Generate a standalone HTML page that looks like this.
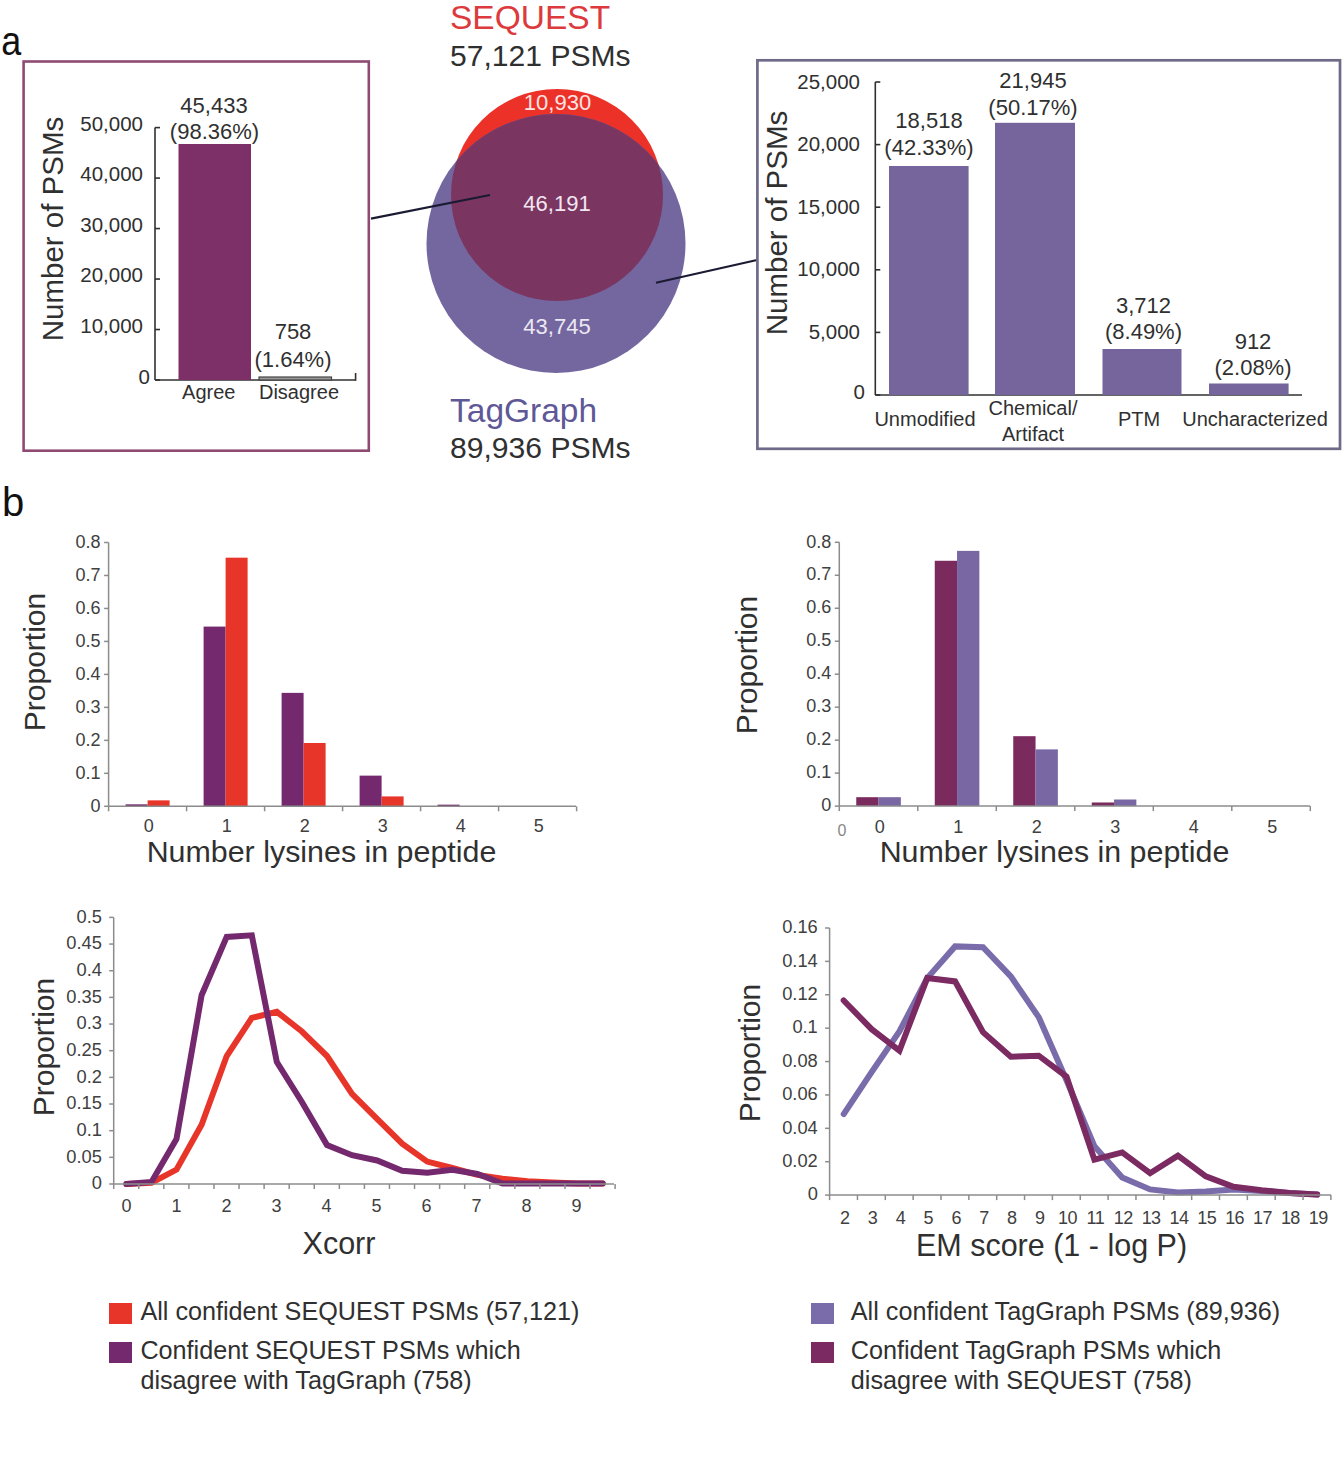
<!DOCTYPE html>
<html><head><meta charset="utf-8"><style>
html,body{margin:0;padding:0;background:#fff;}
svg{display:block;font-family:"Liberation Sans", sans-serif;}
</style></head><body>
<svg width="1344" height="1463" viewBox="0 0 1344 1463">
<rect width="1344" height="1463" fill="#fff"/>
<text x="0" y="0" font-size="40" fill="#111" text-anchor="start" transform="translate(1.2,54.5) scale(0.9,1)">a</text>
<text x="2" y="515.5" font-size="40" fill="#111" text-anchor="start" >b</text>
<rect x="23.6" y="61.5" width="345.2" height="389.2" fill="none" stroke="#8e4a72" stroke-width="2.6"/>
<line x1="155" y1="127.6" x2="155" y2="380" stroke="#303030" stroke-width="1.6" />
<line x1="155" y1="380" x2="355.6" y2="380" stroke="#303030" stroke-width="1.6" />
<line x1="355.6" y1="380.8" x2="355.6" y2="373" stroke="#303030" stroke-width="1.6" />
<line x1="155" y1="380.0" x2="160" y2="380.0" stroke="#303030" stroke-width="1.6" />
<text x="150" y="383.5" font-size="20.5" fill="#303030" text-anchor="end" >0</text>
<line x1="155" y1="329.52" x2="160" y2="329.52" stroke="#303030" stroke-width="1.6" />
<text x="143" y="332.52" font-size="20.5" fill="#303030" text-anchor="end" >10,000</text>
<line x1="155" y1="279.03999999999996" x2="160" y2="279.03999999999996" stroke="#303030" stroke-width="1.6" />
<text x="143" y="282.03999999999996" font-size="20.5" fill="#303030" text-anchor="end" >20,000</text>
<line x1="155" y1="228.56" x2="160" y2="228.56" stroke="#303030" stroke-width="1.6" />
<text x="143" y="231.56" font-size="20.5" fill="#303030" text-anchor="end" >30,000</text>
<line x1="155" y1="178.07999999999998" x2="160" y2="178.07999999999998" stroke="#303030" stroke-width="1.6" />
<text x="143" y="181.07999999999998" font-size="20.5" fill="#303030" text-anchor="end" >40,000</text>
<line x1="155" y1="127.59999999999997" x2="160" y2="127.59999999999997" stroke="#303030" stroke-width="1.6" />
<text x="143" y="130.59999999999997" font-size="20.5" fill="#303030" text-anchor="end" >50,000</text>
<rect x="178.5" y="144" width="72.5" height="236" fill="#7d3067" />
<rect x="259" y="377" width="72.5" height="3" fill="#9a9a9a" stroke="#444" stroke-width="1.2"/>
<text x="214" y="113" font-size="22" fill="#303030" text-anchor="middle" >45,433</text>
<text x="214.5" y="138.7" font-size="22" fill="#303030" text-anchor="middle" >(98.36%)</text>
<text x="293" y="339" font-size="22" fill="#303030" text-anchor="middle" >758</text>
<text x="293" y="367" font-size="22" fill="#303030" text-anchor="middle" >(1.64%)</text>
<text x="208.8" y="399" font-size="20" fill="#303030" text-anchor="middle" >Agree</text>
<text x="299" y="399" font-size="20" fill="#303030" text-anchor="middle" >Disagree</text>
<text x="0" y="0" font-size="29.5" fill="#303030" text-anchor="middle" transform="translate(63,229) rotate(-90)">Number of PSMs</text>
<text x="450" y="29" font-size="33.5" fill="#dc3a3c" text-anchor="start" >SEQUEST</text>
<text x="450" y="65.5" font-size="30.1" fill="#303030" text-anchor="start" >57,121 PSMs</text>
<defs><clipPath id="pc"><circle cx="556" cy="243.5" r="129.5"/></clipPath></defs>
<circle cx="557" cy="195" r="106" fill="#ec3128"/>
<circle cx="556" cy="243.5" r="129.5" fill="#74679f"/>
<circle cx="557" cy="195" r="106" fill="#7a3661" clip-path="url(#pc)"/>
<text x="557.5" y="109.5" font-size="22" fill="#fbe4e4" text-anchor="middle" >10,930</text>
<text x="557" y="210.5" font-size="22" fill="#f2e6f2" text-anchor="middle" >46,191</text>
<text x="557" y="334" font-size="22" fill="#ece8f4" text-anchor="middle" >43,745</text>
<line x1="371" y1="218.6" x2="490" y2="195" stroke="#1a1a33" stroke-width="2.2" />
<line x1="656" y1="282.8" x2="757" y2="260" stroke="#1a1a33" stroke-width="2.2" />
<text x="450" y="422.3" font-size="33.5" fill="#5f5897" text-anchor="start" >TagGraph</text>
<text x="450" y="458" font-size="30.1" fill="#303030" text-anchor="start" >89,936 PSMs</text>
<rect x="757.4" y="60.3" width="582.6" height="388.5" fill="none" stroke="#6e6a88" stroke-width="2.7"/>
<line x1="875.3" y1="82" x2="875.3" y2="395" stroke="#303030" stroke-width="1.6" />
<line x1="875.3" y1="395" x2="1302" y2="395" stroke="#303030" stroke-width="1.6" />
<line x1="875.3" y1="395.0" x2="880.3" y2="395.0" stroke="#303030" stroke-width="1.6" />
<text x="865" y="399" font-size="20.5" fill="#303030" text-anchor="end" >0</text>
<line x1="875.3" y1="332.4" x2="880.3" y2="332.4" stroke="#303030" stroke-width="1.6" />
<text x="860" y="338.9" font-size="20.5" fill="#303030" text-anchor="end" >5,000</text>
<line x1="875.3" y1="269.8" x2="880.3" y2="269.8" stroke="#303030" stroke-width="1.6" />
<text x="860" y="276.3" font-size="20.5" fill="#303030" text-anchor="end" >10,000</text>
<line x1="875.3" y1="207.2" x2="880.3" y2="207.2" stroke="#303030" stroke-width="1.6" />
<text x="860" y="213.7" font-size="20.5" fill="#303030" text-anchor="end" >15,000</text>
<line x1="875.3" y1="144.6" x2="880.3" y2="144.6" stroke="#303030" stroke-width="1.6" />
<text x="860" y="151.1" font-size="20.5" fill="#303030" text-anchor="end" >20,000</text>
<line x1="875.3" y1="82.0" x2="880.3" y2="82.0" stroke="#303030" stroke-width="1.6" />
<text x="860" y="88.5" font-size="20.5" fill="#303030" text-anchor="end" >25,000</text>
<rect x="889" y="166" width="79.60000000000002" height="229" fill="#76659d" />
<rect x="995" y="122.8" width="80" height="272.2" fill="#76659d" />
<rect x="1102.5" y="349" width="79.0" height="46" fill="#76659d" />
<rect x="1209" y="383.5" width="79.59999999999991" height="11.5" fill="#76659d" />
<text x="929" y="128" font-size="22" fill="#303030" text-anchor="middle" >18,518</text>
<text x="929" y="155" font-size="22" fill="#303030" text-anchor="middle" >(42.33%)</text>
<text x="1033" y="88" font-size="22" fill="#303030" text-anchor="middle" >21,945</text>
<text x="1033" y="114.7" font-size="22" fill="#303030" text-anchor="middle" >(50.17%)</text>
<text x="1143.5" y="313.4" font-size="22" fill="#303030" text-anchor="middle" >3,712</text>
<text x="1143.5" y="339" font-size="22" fill="#303030" text-anchor="middle" >(8.49%)</text>
<text x="1253" y="349" font-size="22" fill="#303030" text-anchor="middle" >912</text>
<text x="1253" y="375" font-size="22" fill="#303030" text-anchor="middle" >(2.08%)</text>
<text x="925" y="426" font-size="20" fill="#303030" text-anchor="middle" >Unmodified</text>
<text x="1033" y="415" font-size="20" fill="#303030" text-anchor="middle" >Chemical/</text>
<text x="1033" y="440.6" font-size="20" fill="#303030" text-anchor="middle" >Artifact</text>
<text x="1139" y="426" font-size="20" fill="#303030" text-anchor="middle" >PTM</text>
<text x="1255" y="426" font-size="20" fill="#303030" text-anchor="middle" >Uncharacterized</text>
<text x="0" y="0" font-size="29.5" fill="#303030" text-anchor="middle" transform="translate(787,223) rotate(-90)">Number of PSMs</text>
<rect x="125.6" y="804.3214999999999" width="22" height="1.9785000000000537" fill="#74296e" />
<rect x="147.6" y="800.3644999999999" width="22" height="5.935500000000047" fill="#e8352a" />
<rect x="203.6" y="626.58625" width="22" height="179.71375" fill="#74296e" />
<rect x="225.6" y="557.6685" width="22" height="248.63149999999996" fill="#e8352a" />
<rect x="281.6" y="692.866" width="22" height="113.43399999999997" fill="#74296e" />
<rect x="303.6" y="742.9879999999999" width="22" height="63.31200000000001" fill="#e8352a" />
<rect x="359.6" y="775.63325" width="22" height="30.66674999999998" fill="#74296e" />
<rect x="381.6" y="796.4074999999999" width="22" height="9.892500000000041" fill="#e8352a" />
<rect x="437.6" y="804.65125" width="22" height="1.64874999999995" fill="#74296e" />
<rect x="459.6" y="805.97025" width="22" height="0.32974999999999" fill="#e8352a" />
<rect x="515.6" y="806.3" width="22" height="0.0" fill="#74296e" />
<rect x="537.6" y="806.3" width="22" height="0.0" fill="#e8352a" />
<line x1="108.6" y1="542.5" x2="108.6" y2="806.3" stroke="#8c8c8c" stroke-width="1.5" />
<line x1="108.6" y1="806.3" x2="576" y2="806.3" stroke="#8c8c8c" stroke-width="1.5" />
<line x1="104.1" y1="806.3" x2="108.6" y2="806.3" stroke="#8c8c8c" stroke-width="1.5" />
<text x="100.6" y="811.5" font-size="18" fill="#404040" text-anchor="end" >0</text>
<line x1="104.1" y1="773.3249999999999" x2="108.6" y2="773.3249999999999" stroke="#8c8c8c" stroke-width="1.5" />
<text x="100.6" y="778.525" font-size="18" fill="#404040" text-anchor="end" >0.1</text>
<line x1="104.1" y1="740.3499999999999" x2="108.6" y2="740.3499999999999" stroke="#8c8c8c" stroke-width="1.5" />
<text x="100.6" y="745.55" font-size="18" fill="#404040" text-anchor="end" >0.2</text>
<line x1="104.1" y1="707.375" x2="108.6" y2="707.375" stroke="#8c8c8c" stroke-width="1.5" />
<text x="100.6" y="712.575" font-size="18" fill="#404040" text-anchor="end" >0.3</text>
<line x1="104.1" y1="674.4" x2="108.6" y2="674.4" stroke="#8c8c8c" stroke-width="1.5" />
<text x="100.6" y="679.6" font-size="18" fill="#404040" text-anchor="end" >0.4</text>
<line x1="104.1" y1="641.425" x2="108.6" y2="641.425" stroke="#8c8c8c" stroke-width="1.5" />
<text x="100.6" y="646.625" font-size="18" fill="#404040" text-anchor="end" >0.5</text>
<line x1="104.1" y1="608.45" x2="108.6" y2="608.45" stroke="#8c8c8c" stroke-width="1.5" />
<text x="100.6" y="613.6500000000001" font-size="18" fill="#404040" text-anchor="end" >0.6</text>
<line x1="104.1" y1="575.475" x2="108.6" y2="575.475" stroke="#8c8c8c" stroke-width="1.5" />
<text x="100.6" y="580.6750000000001" font-size="18" fill="#404040" text-anchor="end" >0.7</text>
<line x1="104.1" y1="542.5" x2="108.6" y2="542.5" stroke="#8c8c8c" stroke-width="1.5" />
<text x="100.6" y="547.7" font-size="18" fill="#404040" text-anchor="end" >0.8</text>
<line x1="108.6" y1="806.3" x2="108.6" y2="811.3" stroke="#8c8c8c" stroke-width="1.5" />
<line x1="186.6" y1="806.3" x2="186.6" y2="811.3" stroke="#8c8c8c" stroke-width="1.5" />
<line x1="264.6" y1="806.3" x2="264.6" y2="811.3" stroke="#8c8c8c" stroke-width="1.5" />
<line x1="342.6" y1="806.3" x2="342.6" y2="811.3" stroke="#8c8c8c" stroke-width="1.5" />
<line x1="420.6" y1="806.3" x2="420.6" y2="811.3" stroke="#8c8c8c" stroke-width="1.5" />
<line x1="498.6" y1="806.3" x2="498.6" y2="811.3" stroke="#8c8c8c" stroke-width="1.5" />
<line x1="576.6" y1="806.3" x2="576.6" y2="811.3" stroke="#8c8c8c" stroke-width="1.5" />
<text x="148.79999999999998" y="831.5" font-size="18" fill="#404040" text-anchor="middle" >0</text>
<text x="226.79999999999998" y="831.5" font-size="18" fill="#404040" text-anchor="middle" >1</text>
<text x="304.8" y="831.5" font-size="18" fill="#404040" text-anchor="middle" >2</text>
<text x="382.8" y="831.5" font-size="18" fill="#404040" text-anchor="middle" >3</text>
<text x="460.8" y="831.5" font-size="18" fill="#404040" text-anchor="middle" >4</text>
<text x="538.8000000000001" y="831.5" font-size="18" fill="#404040" text-anchor="middle" >5</text>
<text x="321.5" y="861.5" font-size="30.4" fill="#303030" text-anchor="middle" >Number lysines in peptide</text>
<text x="0" y="0" font-size="30" fill="#303030" text-anchor="middle" transform="translate(45,662) rotate(-90)">Proportion</text>
<rect x="856.25" y="797.1967500000001" width="22.3" height="8.903249999999957" fill="#7b2a5e" />
<rect x="878.55" y="797.1967500000001" width="22.3" height="8.903249999999957" fill="#7867a3" />
<rect x="934.75" y="560.766" width="22.3" height="245.33400000000006" fill="#7b2a5e" />
<rect x="957.05" y="550.8734999999999" width="22.3" height="255.2265000000001" fill="#7867a3" />
<rect x="1013.25" y="736.193" width="22.3" height="69.90700000000004" fill="#7b2a5e" />
<rect x="1035.55" y="749.383" width="22.3" height="56.716999999999985" fill="#7867a3" />
<rect x="1091.75" y="802.47275" width="22.3" height="3.6272500000000036" fill="#7b2a5e" />
<rect x="1114.05" y="799.505" width="22.3" height="6.595000000000027" fill="#7867a3" />
<rect x="1170.25" y="806.1" width="22.3" height="0.0" fill="#7b2a5e" />
<rect x="1192.55" y="806.1" width="22.3" height="0.0" fill="#7867a3" />
<rect x="1248.75" y="806.1" width="22.3" height="0.0" fill="#7b2a5e" />
<rect x="1271.05" y="806.1" width="22.3" height="0.0" fill="#7867a3" />
<line x1="839.3" y1="542.3" x2="839.3" y2="806.1" stroke="#8c8c8c" stroke-width="1.5" />
<line x1="839.3" y1="806.1" x2="1310" y2="806.1" stroke="#8c8c8c" stroke-width="1.5" />
<line x1="834.8" y1="806.1" x2="839.3" y2="806.1" stroke="#8c8c8c" stroke-width="1.5" />
<text x="831.3" y="811.3000000000001" font-size="18" fill="#404040" text-anchor="end" >0</text>
<line x1="834.8" y1="773.125" x2="839.3" y2="773.125" stroke="#8c8c8c" stroke-width="1.5" />
<text x="831.3" y="778.325" font-size="18" fill="#404040" text-anchor="end" >0.1</text>
<line x1="834.8" y1="740.15" x2="839.3" y2="740.15" stroke="#8c8c8c" stroke-width="1.5" />
<text x="831.3" y="745.35" font-size="18" fill="#404040" text-anchor="end" >0.2</text>
<line x1="834.8" y1="707.175" x2="839.3" y2="707.175" stroke="#8c8c8c" stroke-width="1.5" />
<text x="831.3" y="712.375" font-size="18" fill="#404040" text-anchor="end" >0.3</text>
<line x1="834.8" y1="674.2" x2="839.3" y2="674.2" stroke="#8c8c8c" stroke-width="1.5" />
<text x="831.3" y="679.4000000000001" font-size="18" fill="#404040" text-anchor="end" >0.4</text>
<line x1="834.8" y1="641.2249999999999" x2="839.3" y2="641.2249999999999" stroke="#8c8c8c" stroke-width="1.5" />
<text x="831.3" y="646.425" font-size="18" fill="#404040" text-anchor="end" >0.5</text>
<line x1="834.8" y1="608.25" x2="839.3" y2="608.25" stroke="#8c8c8c" stroke-width="1.5" />
<text x="831.3" y="613.45" font-size="18" fill="#404040" text-anchor="end" >0.6</text>
<line x1="834.8" y1="575.275" x2="839.3" y2="575.275" stroke="#8c8c8c" stroke-width="1.5" />
<text x="831.3" y="580.475" font-size="18" fill="#404040" text-anchor="end" >0.7</text>
<line x1="834.8" y1="542.3" x2="839.3" y2="542.3" stroke="#8c8c8c" stroke-width="1.5" />
<text x="831.3" y="547.5" font-size="18" fill="#404040" text-anchor="end" >0.8</text>
<line x1="839.3" y1="806.1" x2="839.3" y2="811.1" stroke="#8c8c8c" stroke-width="1.5" />
<line x1="917.8" y1="806.1" x2="917.8" y2="811.1" stroke="#8c8c8c" stroke-width="1.5" />
<line x1="996.3" y1="806.1" x2="996.3" y2="811.1" stroke="#8c8c8c" stroke-width="1.5" />
<line x1="1074.8" y1="806.1" x2="1074.8" y2="811.1" stroke="#8c8c8c" stroke-width="1.5" />
<line x1="1153.3" y1="806.1" x2="1153.3" y2="811.1" stroke="#8c8c8c" stroke-width="1.5" />
<line x1="1231.8" y1="806.1" x2="1231.8" y2="811.1" stroke="#8c8c8c" stroke-width="1.5" />
<line x1="1310.3" y1="806.1" x2="1310.3" y2="811.1" stroke="#8c8c8c" stroke-width="1.5" />
<text x="879.75" y="832.5" font-size="18" fill="#404040" text-anchor="middle" >0</text>
<text x="958.25" y="832.5" font-size="18" fill="#404040" text-anchor="middle" >1</text>
<text x="1036.75" y="832.5" font-size="18" fill="#404040" text-anchor="middle" >2</text>
<text x="1115.25" y="832.5" font-size="18" fill="#404040" text-anchor="middle" >3</text>
<text x="1193.75" y="832.5" font-size="18" fill="#404040" text-anchor="middle" >4</text>
<text x="1272.25" y="832.5" font-size="18" fill="#404040" text-anchor="middle" >5</text>
<text x="1054.5" y="861.5" font-size="30.4" fill="#303030" text-anchor="middle" >Number lysines in peptide</text>
<text x="0" y="0" font-size="30" fill="#303030" text-anchor="middle" transform="translate(757,665) rotate(-90)">Proportion</text>
<text x="842" y="836" font-size="16" fill="#888" text-anchor="middle" >0</text>
<polyline points="126.4,1184.0 151.5,1182.9 176.5,1169.6 201.6,1124.8 226.7,1056.0 251.8,1017.9 276.8,1011.8 301.9,1031.5 327.0,1056.0 352.0,1093.9 377.1,1118.9 402.2,1143.7 427.2,1161.6 452.3,1168.0 477.4,1174.9 502.5,1178.7 527.5,1181.3 552.6,1182.4 577.7,1183.5 602.7,1183.5" fill="none" stroke="#e8352a" stroke-width="6" stroke-linejoin="miter" stroke-miterlimit="3" stroke-linecap="round"/>
<polyline points="126.4,1184.0 151.5,1181.9 176.5,1138.9 201.6,995.2 226.7,936.9 251.8,935.3 276.8,1062.0 301.9,1102.0 327.0,1145.0 352.0,1155.2 377.1,1160.5 402.2,1170.8 427.2,1172.8 452.3,1169.8 477.4,1174.0 502.5,1183.5 527.5,1183.5 552.6,1183.5 577.7,1183.5 602.7,1183.5" fill="none" stroke="#74296e" stroke-width="6" stroke-linejoin="miter" stroke-miterlimit="3" stroke-linecap="round"/>
<line x1="113.7" y1="917.4" x2="113.7" y2="1184" stroke="#8c8c8c" stroke-width="1.5" />
<line x1="113.7" y1="1184" x2="614" y2="1184" stroke="#8c8c8c" stroke-width="1.5" />
<line x1="109.2" y1="1184.0" x2="113.7" y2="1184.0" stroke="#8c8c8c" stroke-width="1.5" />
<text x="101.9" y="1189.2" font-size="18.3" fill="#404040" text-anchor="end" >0</text>
<line x1="109.2" y1="1157.34" x2="113.7" y2="1157.34" stroke="#8c8c8c" stroke-width="1.5" />
<text x="101.9" y="1162.54" font-size="18.3" fill="#404040" text-anchor="end" >0.05</text>
<line x1="109.2" y1="1130.68" x2="113.7" y2="1130.68" stroke="#8c8c8c" stroke-width="1.5" />
<text x="101.9" y="1135.88" font-size="18.3" fill="#404040" text-anchor="end" >0.1</text>
<line x1="109.2" y1="1104.02" x2="113.7" y2="1104.02" stroke="#8c8c8c" stroke-width="1.5" />
<text x="101.9" y="1109.22" font-size="18.3" fill="#404040" text-anchor="end" >0.15</text>
<line x1="109.2" y1="1077.36" x2="113.7" y2="1077.36" stroke="#8c8c8c" stroke-width="1.5" />
<text x="101.9" y="1082.56" font-size="18.3" fill="#404040" text-anchor="end" >0.2</text>
<line x1="109.2" y1="1050.7" x2="113.7" y2="1050.7" stroke="#8c8c8c" stroke-width="1.5" />
<text x="101.9" y="1055.9" font-size="18.3" fill="#404040" text-anchor="end" >0.25</text>
<line x1="109.2" y1="1024.04" x2="113.7" y2="1024.04" stroke="#8c8c8c" stroke-width="1.5" />
<text x="101.9" y="1029.24" font-size="18.3" fill="#404040" text-anchor="end" >0.3</text>
<line x1="109.2" y1="997.38" x2="113.7" y2="997.38" stroke="#8c8c8c" stroke-width="1.5" />
<text x="101.9" y="1002.58" font-size="18.3" fill="#404040" text-anchor="end" >0.35</text>
<line x1="109.2" y1="970.72" x2="113.7" y2="970.72" stroke="#8c8c8c" stroke-width="1.5" />
<text x="101.9" y="975.9200000000001" font-size="18.3" fill="#404040" text-anchor="end" >0.4</text>
<line x1="109.2" y1="944.06" x2="113.7" y2="944.06" stroke="#8c8c8c" stroke-width="1.5" />
<text x="101.9" y="949.26" font-size="18.3" fill="#404040" text-anchor="end" >0.45</text>
<line x1="109.2" y1="917.4" x2="113.7" y2="917.4" stroke="#8c8c8c" stroke-width="1.5" />
<text x="101.9" y="922.6" font-size="18.3" fill="#404040" text-anchor="end" >0.5</text>
<line x1="113.7" y1="1184" x2="113.7" y2="1189" stroke="#8c8c8c" stroke-width="1.5" />
<line x1="138.77" y1="1184" x2="138.77" y2="1189" stroke="#8c8c8c" stroke-width="1.5" />
<line x1="163.84" y1="1184" x2="163.84" y2="1189" stroke="#8c8c8c" stroke-width="1.5" />
<line x1="188.91000000000003" y1="1184" x2="188.91000000000003" y2="1189" stroke="#8c8c8c" stroke-width="1.5" />
<line x1="213.98000000000002" y1="1184" x2="213.98000000000002" y2="1189" stroke="#8c8c8c" stroke-width="1.5" />
<line x1="239.05" y1="1184" x2="239.05" y2="1189" stroke="#8c8c8c" stroke-width="1.5" />
<line x1="264.12" y1="1184" x2="264.12" y2="1189" stroke="#8c8c8c" stroke-width="1.5" />
<line x1="289.19" y1="1184" x2="289.19" y2="1189" stroke="#8c8c8c" stroke-width="1.5" />
<line x1="314.26" y1="1184" x2="314.26" y2="1189" stroke="#8c8c8c" stroke-width="1.5" />
<line x1="339.33" y1="1184" x2="339.33" y2="1189" stroke="#8c8c8c" stroke-width="1.5" />
<line x1="364.4" y1="1184" x2="364.4" y2="1189" stroke="#8c8c8c" stroke-width="1.5" />
<line x1="389.46999999999997" y1="1184" x2="389.46999999999997" y2="1189" stroke="#8c8c8c" stroke-width="1.5" />
<line x1="414.54" y1="1184" x2="414.54" y2="1189" stroke="#8c8c8c" stroke-width="1.5" />
<line x1="439.61" y1="1184" x2="439.61" y2="1189" stroke="#8c8c8c" stroke-width="1.5" />
<line x1="464.68" y1="1184" x2="464.68" y2="1189" stroke="#8c8c8c" stroke-width="1.5" />
<line x1="489.75" y1="1184" x2="489.75" y2="1189" stroke="#8c8c8c" stroke-width="1.5" />
<line x1="514.82" y1="1184" x2="514.82" y2="1189" stroke="#8c8c8c" stroke-width="1.5" />
<line x1="539.89" y1="1184" x2="539.89" y2="1189" stroke="#8c8c8c" stroke-width="1.5" />
<line x1="564.96" y1="1184" x2="564.96" y2="1189" stroke="#8c8c8c" stroke-width="1.5" />
<line x1="590.03" y1="1184" x2="590.03" y2="1189" stroke="#8c8c8c" stroke-width="1.5" />
<line x1="615.1" y1="1184" x2="615.1" y2="1189" stroke="#8c8c8c" stroke-width="1.5" />
<text x="126.6" y="1212.3" font-size="18" fill="#404040" text-anchor="middle" >0</text>
<text x="176.6" y="1212.3" font-size="18" fill="#404040" text-anchor="middle" >1</text>
<text x="226.6" y="1212.3" font-size="18" fill="#404040" text-anchor="middle" >2</text>
<text x="276.6" y="1212.3" font-size="18" fill="#404040" text-anchor="middle" >3</text>
<text x="326.6" y="1212.3" font-size="18" fill="#404040" text-anchor="middle" >4</text>
<text x="376.6" y="1212.3" font-size="18" fill="#404040" text-anchor="middle" >5</text>
<text x="426.6" y="1212.3" font-size="18" fill="#404040" text-anchor="middle" >6</text>
<text x="476.6" y="1212.3" font-size="18" fill="#404040" text-anchor="middle" >7</text>
<text x="526.6" y="1212.3" font-size="18" fill="#404040" text-anchor="middle" >8</text>
<text x="576.6" y="1212.3" font-size="18" fill="#404040" text-anchor="middle" >9</text>
<text x="339" y="1254.3" font-size="30.5" fill="#303030" text-anchor="middle" >Xcorr</text>
<text x="0" y="0" font-size="30" fill="#303030" text-anchor="middle" transform="translate(54,1047) rotate(-90)">Proportion</text>
<polyline points="843.7,1114.1 871.6,1072.1 899.4,1031.5 927.2,978.1 955.1,946.4 983.0,947.2 1010.8,976.4 1038.7,1017.1 1066.5,1080.2 1094.4,1146.2 1122.2,1177.4 1150.1,1189.4 1177.9,1192.4 1205.8,1191.6 1233.6,1189.4 1261.5,1190.9 1289.3,1192.9 1317.2,1194.6" fill="none" stroke="#7a6cab" stroke-width="6" stroke-linejoin="miter" stroke-miterlimit="3" stroke-linecap="round"/>
<polyline points="843.7,1000.5 871.6,1029.2 899.4,1050.7 927.2,978.1 955.1,981.4 983.0,1032.2 1010.8,1056.7 1038.7,1055.7 1066.5,1076.7 1094.4,1159.7 1122.2,1152.4 1150.1,1173.2 1177.9,1155.7 1205.8,1176.4 1233.6,1186.8 1261.5,1190.3 1289.3,1192.9 1317.2,1194.6" fill="none" stroke="#7b2a62" stroke-width="6" stroke-linejoin="miter" stroke-miterlimit="3" stroke-linecap="round"/>
<line x1="829.6" y1="928" x2="829.6" y2="1195.1" stroke="#8c8c8c" stroke-width="1.5" />
<line x1="829.6" y1="1195.1" x2="1331" y2="1195.1" stroke="#8c8c8c" stroke-width="1.5" />
<line x1="825.1" y1="1195.1" x2="829.6" y2="1195.1" stroke="#8c8c8c" stroke-width="1.5" />
<text x="817.8000000000001" y="1200.3" font-size="18.3" fill="#404040" text-anchor="end" >0</text>
<line x1="825.1" y1="1161.7124999999999" x2="829.6" y2="1161.7124999999999" stroke="#8c8c8c" stroke-width="1.5" />
<text x="817.8000000000001" y="1166.9125" font-size="18.3" fill="#404040" text-anchor="end" >0.02</text>
<line x1="825.1" y1="1128.3249999999998" x2="829.6" y2="1128.3249999999998" stroke="#8c8c8c" stroke-width="1.5" />
<text x="817.8000000000001" y="1133.5249999999999" font-size="18.3" fill="#404040" text-anchor="end" >0.04</text>
<line x1="825.1" y1="1094.9375" x2="829.6" y2="1094.9375" stroke="#8c8c8c" stroke-width="1.5" />
<text x="817.8000000000001" y="1100.1375" font-size="18.3" fill="#404040" text-anchor="end" >0.06</text>
<line x1="825.1" y1="1061.55" x2="829.6" y2="1061.55" stroke="#8c8c8c" stroke-width="1.5" />
<text x="817.8000000000001" y="1066.75" font-size="18.3" fill="#404040" text-anchor="end" >0.08</text>
<line x1="825.1" y1="1028.1625" x2="829.6" y2="1028.1625" stroke="#8c8c8c" stroke-width="1.5" />
<text x="817.8000000000001" y="1033.3625" font-size="18.3" fill="#404040" text-anchor="end" >0.1</text>
<line x1="825.1" y1="994.775" x2="829.6" y2="994.775" stroke="#8c8c8c" stroke-width="1.5" />
<text x="817.8000000000001" y="999.975" font-size="18.3" fill="#404040" text-anchor="end" >0.12</text>
<line x1="825.1" y1="961.3875" x2="829.6" y2="961.3875" stroke="#8c8c8c" stroke-width="1.5" />
<text x="817.8000000000001" y="966.5875000000001" font-size="18.3" fill="#404040" text-anchor="end" >0.14</text>
<line x1="825.1" y1="928.0" x2="829.6" y2="928.0" stroke="#8c8c8c" stroke-width="1.5" />
<text x="817.8000000000001" y="933.2" font-size="18.3" fill="#404040" text-anchor="end" >0.16</text>
<line x1="829.6" y1="1195.1" x2="829.6" y2="1200.1" stroke="#8c8c8c" stroke-width="1.5" />
<line x1="857.45" y1="1195.1" x2="857.45" y2="1200.1" stroke="#8c8c8c" stroke-width="1.5" />
<line x1="885.3000000000001" y1="1195.1" x2="885.3000000000001" y2="1200.1" stroke="#8c8c8c" stroke-width="1.5" />
<line x1="913.1500000000001" y1="1195.1" x2="913.1500000000001" y2="1200.1" stroke="#8c8c8c" stroke-width="1.5" />
<line x1="941.0" y1="1195.1" x2="941.0" y2="1200.1" stroke="#8c8c8c" stroke-width="1.5" />
<line x1="968.85" y1="1195.1" x2="968.85" y2="1200.1" stroke="#8c8c8c" stroke-width="1.5" />
<line x1="996.7" y1="1195.1" x2="996.7" y2="1200.1" stroke="#8c8c8c" stroke-width="1.5" />
<line x1="1024.55" y1="1195.1" x2="1024.55" y2="1200.1" stroke="#8c8c8c" stroke-width="1.5" />
<line x1="1052.4" y1="1195.1" x2="1052.4" y2="1200.1" stroke="#8c8c8c" stroke-width="1.5" />
<line x1="1080.25" y1="1195.1" x2="1080.25" y2="1200.1" stroke="#8c8c8c" stroke-width="1.5" />
<line x1="1108.1" y1="1195.1" x2="1108.1" y2="1200.1" stroke="#8c8c8c" stroke-width="1.5" />
<line x1="1135.95" y1="1195.1" x2="1135.95" y2="1200.1" stroke="#8c8c8c" stroke-width="1.5" />
<line x1="1163.8000000000002" y1="1195.1" x2="1163.8000000000002" y2="1200.1" stroke="#8c8c8c" stroke-width="1.5" />
<line x1="1191.65" y1="1195.1" x2="1191.65" y2="1200.1" stroke="#8c8c8c" stroke-width="1.5" />
<line x1="1219.5" y1="1195.1" x2="1219.5" y2="1200.1" stroke="#8c8c8c" stroke-width="1.5" />
<line x1="1247.35" y1="1195.1" x2="1247.35" y2="1200.1" stroke="#8c8c8c" stroke-width="1.5" />
<line x1="1275.2" y1="1195.1" x2="1275.2" y2="1200.1" stroke="#8c8c8c" stroke-width="1.5" />
<line x1="1303.0500000000002" y1="1195.1" x2="1303.0500000000002" y2="1200.1" stroke="#8c8c8c" stroke-width="1.5" />
<line x1="1330.9" y1="1195.1" x2="1330.9" y2="1200.1" stroke="#8c8c8c" stroke-width="1.5" />
<text x="844.7" y="1224" font-size="18" fill="#404040" text-anchor="middle" letter-spacing="-0.6">2</text>
<text x="872.5500000000001" y="1224" font-size="18" fill="#404040" text-anchor="middle" letter-spacing="-0.6">3</text>
<text x="900.4000000000001" y="1224" font-size="18" fill="#404040" text-anchor="middle" letter-spacing="-0.6">4</text>
<text x="928.25" y="1224" font-size="18" fill="#404040" text-anchor="middle" letter-spacing="-0.6">5</text>
<text x="956.1" y="1224" font-size="18" fill="#404040" text-anchor="middle" letter-spacing="-0.6">6</text>
<text x="983.95" y="1224" font-size="18" fill="#404040" text-anchor="middle" letter-spacing="-0.6">7</text>
<text x="1011.8000000000001" y="1224" font-size="18" fill="#404040" text-anchor="middle" letter-spacing="-0.6">8</text>
<text x="1039.65" y="1224" font-size="18" fill="#404040" text-anchor="middle" letter-spacing="-0.6">9</text>
<text x="1067.5" y="1224" font-size="18" fill="#404040" text-anchor="middle" letter-spacing="-0.6">10</text>
<text x="1095.3500000000001" y="1224" font-size="18" fill="#404040" text-anchor="middle" letter-spacing="-0.6">11</text>
<text x="1123.2" y="1224" font-size="18" fill="#404040" text-anchor="middle" letter-spacing="-0.6">12</text>
<text x="1151.0500000000002" y="1224" font-size="18" fill="#404040" text-anchor="middle" letter-spacing="-0.6">13</text>
<text x="1178.9" y="1224" font-size="18" fill="#404040" text-anchor="middle" letter-spacing="-0.6">14</text>
<text x="1206.75" y="1224" font-size="18" fill="#404040" text-anchor="middle" letter-spacing="-0.6">15</text>
<text x="1234.6000000000001" y="1224" font-size="18" fill="#404040" text-anchor="middle" letter-spacing="-0.6">16</text>
<text x="1262.45" y="1224" font-size="18" fill="#404040" text-anchor="middle" letter-spacing="-0.6">17</text>
<text x="1290.3000000000002" y="1224" font-size="18" fill="#404040" text-anchor="middle" letter-spacing="-0.6">18</text>
<text x="1318.15" y="1224" font-size="18" fill="#404040" text-anchor="middle" letter-spacing="-0.6">19</text>
<text x="1051.5" y="1255.6" font-size="30.5" fill="#303030" text-anchor="middle" >EM score (1 - log P)</text>
<text x="0" y="0" font-size="30" fill="#303030" text-anchor="middle" transform="translate(760,1053) rotate(-90)">Proportion</text>
<rect x="109" y="1303" width="23" height="21" fill="#e8352a" />
<rect x="109" y="1342" width="23" height="21" fill="#74296e" />
<text x="140.4" y="1320.4" font-size="25.2" fill="#303030" text-anchor="start" >All confident SEQUEST PSMs (57,121)</text>
<text x="140.4" y="1359" font-size="25.2" fill="#303030" text-anchor="start" >Confident SEQUEST PSMs which</text>
<text x="140.4" y="1389" font-size="25.2" fill="#303030" text-anchor="start" >disagree with TagGraph (758)</text>
<rect x="811" y="1303" width="23" height="21" fill="#7a6cab" />
<rect x="811" y="1342" width="23" height="21" fill="#7b2a62" />
<text x="850.8" y="1320.4" font-size="25.2" fill="#303030" text-anchor="start" >All confident TagGraph PSMs (89,936)</text>
<text x="850.8" y="1359" font-size="25.2" fill="#303030" text-anchor="start" >Confident TagGraph PSMs which</text>
<text x="850.8" y="1389" font-size="25.2" fill="#303030" text-anchor="start" >disagree with SEQUEST (758)</text>
</svg></body></html>
